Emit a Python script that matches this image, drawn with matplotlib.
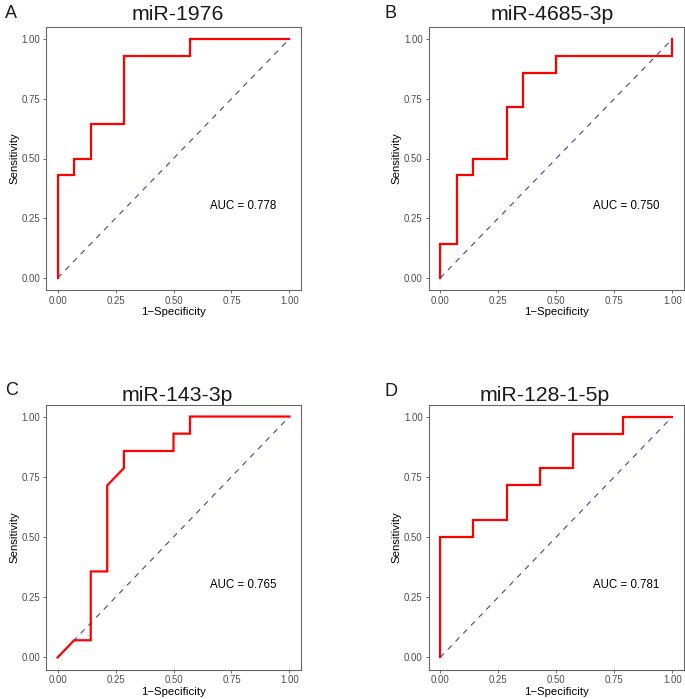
import matplotlib
matplotlib.use("Agg")
import matplotlib.pyplot as plt

plt.rcParams['font.family'] = ['Liberation Sans', 'DejaVu Sans']

W, H = 685, 699

# ROC step coordinates (1-Specificity, Sensitivity)
fpr_1976 = [0, 0, 0.0714, 0.0714, 0.143, 0.143, 0.286, 0.286, 0.571, 0.571, 1]
tpr_1976 = [0, 0.429, 0.429, 0.5, 0.5, 0.643, 0.643, 0.929, 0.929, 1, 1]

fpr_4685 = [0, 0, 0.0714, 0.0714, 0.143, 0.143, 0.286, 0.286, 0.357, 0.357, 0.5, 0.5, 1, 1]
tpr_4685 = [0, 0.143, 0.143, 0.429, 0.429, 0.5, 0.5, 0.714, 0.714, 0.857, 0.857, 0.929, 0.929, 1]

fpr_143 = [0, 0.0714, 0.143, 0.143, 0.214, 0.214, 0.286, 0.286, 0.5, 0.5, 0.571, 0.571, 1]
tpr_143 = [0, 0.0714, 0.0714, 0.357, 0.357, 0.714, 0.786, 0.857, 0.857, 0.929, 0.929, 1, 1]

fpr_128 = [0, 0, 0.143, 0.143, 0.286, 0.286, 0.429, 0.429, 0.571, 0.571, 0.786, 0.786, 1]
tpr_128 = [0, 0.5, 0.5, 0.571, 0.571, 0.714, 0.714, 0.786, 0.786, 0.929, 0.929, 1, 1]

titles = ["miR-1976", "miR-4685-3p", "miR-143-3p", "miR-128-1-5p"]
letters = ["A", "B", "C", "D"]
auc_labels = ["AUC = 0.778", "AUC = 0.750", "AUC = 0.765", "AUC = 0.781"]
ticks = [0, 0.25, 0.5, 0.75, 1]
tick_labels = ["0.00", "0.25", "0.50", "0.75", "1.00"]

curves = [(fpr_1976, tpr_1976), (fpr_4685, tpr_4685),
          (fpr_143, tpr_143), (fpr_128, tpr_128)]

# panel boxes in pixels: left, right, top, bottom
boxes = [(46, 301, 27, 290), (428.5, 684, 27, 290),
         (46, 301, 404.5, 669.5), (428.5, 684, 404.5, 669.5)]
title_pos = [(178, 20), (552, 20), (177, 401), (545, 401)]
letter_pos = [(5, 18.5), (385, 18.5), (5, 395), (384, 396)]

fig = plt.figure(figsize=(W / 100, H / 100), dpi=100)

for i in range(4):
    l, r, t, b = boxes[i]
    ax = fig.add_axes([l / W, 1 - b / H, (r - l) / W, (b - t) / H])
    x, y = curves[i]
    ax.plot([0, 1], [0, 1], color='#4a3f9a', lw=0.8, dashes=(5, 5))
    ax.plot(x, y, color='#ff0000', lw=1.6, solid_joinstyle='miter')
    ax.set_xlim(-0.05, 1.05)
    ax.set_ylim(-0.05, 1.05)
    ax.set_xticks(ticks)
    ax.set_xticklabels(tick_labels)
    ax.set_yticks(ticks)
    ax.set_yticklabels(tick_labels)
    ax.tick_params(direction='out', length=2.4, width=0.6, color='#555555',
                   labelcolor='#4d4d4d', labelsize=6.9, pad=1.8)
    for s in ax.spines.values():
        s.set_color('#666666')
        s.set_linewidth(0.8)
    ax.set_xlabel("1\u2212Specificity", fontsize=8.2, labelpad=1)
    ax.set_ylabel("Sensitivity", fontsize=8.2, labelpad=1.5)
    ax.text(0.8, 0.3, auc_labels[i], fontsize=8.3, ha='center', va='center')
    tx, ty = title_pos[i]
    fig.text(tx / W, 1 - ty / H, titles[i], fontsize=15.3, ha='center',
             va='baseline', color='#1a1a1a')
    lx, ly = letter_pos[i]
    fig.text(lx / W, 1 - ly / H, letters[i], fontsize=13, ha='left',
             va='baseline', color='#1a1a1a')

fig.savefig("out.png", dpi=100)
